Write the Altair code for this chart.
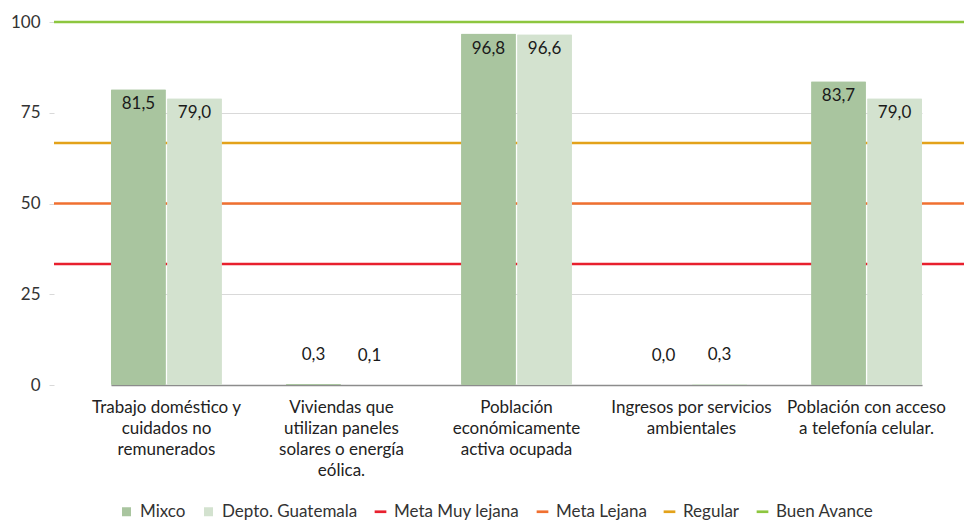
import altair as alt
import pandas as pd

categories = [
    "Trabajo doméstico y\ncuidados no\nremunerados",
    "Viviendas que\nutilizan paneles\nsolares o energía\neólica.",
    "Población\neconómicamente\nactiva ocupada",
    "Ingresos por servicios\nambientales",
    "Población con acceso\na telefonía celular.",
]
bar_series = ["Mixco", "Depto. Guatemala"]
mixco = [81.5, 0.3, 96.8, 0.0, 83.7]
depto = [79.0, 0.1, 96.6, 0.3, 79.0]

line_series = ["Meta Muy lejana", "Meta Lejana", "Regular", "Buen Avance"]
line_values = [33.3, 50.0, 66.7, 100.0]

all_series = bar_series + line_series
colors = ["#a9c59f", "#d3e2cf", "#e8202e", "#f07030", "#e3a21a", "#8dc63f"]
LINE_SYM = "M-1.3,-0.3H1.3V0.3H-1.3Z"
shapes = ["square", "square", LINE_SYM, LINE_SYM, LINE_SYM, LINE_SYM]

rows = []
for i, c in enumerate(categories):
    rows.append({"cat": c, "serie": "Mixco", "v": mixco[i]})
    rows.append({"cat": c, "serie": "Depto. Guatemala", "v": depto[i]})
bars_df = pd.DataFrame(rows)
lines_df = pd.DataFrame({"serie": line_series, "v": line_values})
legend_df = pd.DataFrame({"serie": all_series})

FONT = "Lato"

color_scale = alt.Scale(domain=all_series, range=colors)
shape_scale = alt.Scale(domain=all_series, range=shapes)
legend = alt.Legend(
    orient="none",
    legendX=64,
    legendY=481,
    direction="horizontal",
    title=None,
    labelFontSize=17,
    labelFont=FONT,
    labelColor="#333333",
    columnPadding=14,
    symbolSize=81,
    symbolStrokeWidth=0,
    symbolOpacity=1,
    labelOffset=5,
)

x_scale = alt.Scale(domain=categories, range=[57, 868], paddingInner=0.366, paddingOuter=0)
y_scale = alt.Scale(domain=[0, 100], nice=False)

x_axis = alt.Axis(
    title=None, labelAngle=0, labelExpr="split(datum.label, '\\n')",
    labelFontSize=17, labelFont=FONT, labelColor="#222222", labelLineHeight=21,
    labelPadding=14, ticks=False, domainColor="#8c8c8c", domainWidth=1.5,
    labelLimit=300,
)
y_axis = alt.Axis(
    title=None, values=[0, 25, 50, 75, 100], labelFontSize=17, labelFont=FONT,
    labelColor="#333333", domain=False, tickColor="#d9d9d9", tickSize=5,
    gridColor="#d9d9d9", labelPadding=9,
)

legend_pts = alt.Chart(legend_df).mark_point(filled=True, size=0).encode(
    color=alt.Color("serie:N", scale=color_scale, legend=legend, sort=all_series),
    shape=alt.Shape("serie:N", scale=shape_scale, legend=legend, sort=all_series),
)

rules = alt.Chart(lines_df).mark_rule(strokeWidth=2.5).encode(
    y=alt.Y("v:Q", scale=y_scale, axis=y_axis),
    color=alt.Color("serie:N", scale=color_scale, sort=all_series),
)

base = alt.Chart(bars_df)
bars = base.mark_bar(cornerRadius=1).encode(
    x=alt.X("cat:N", scale=x_scale, axis=x_axis, sort=categories),
    xOffset=alt.XOffset("serie:N", scale=alt.Scale(domain=bar_series, paddingInner=0.02)),
    y=alt.Y("v:Q", scale=y_scale),
    color=alt.Color("serie:N", scale=color_scale, sort=all_series),
)

lab_base = base.transform_calculate(
    lab="replace(format(datum.v, '.1f'), '.', ',')"
).encode(
    x=alt.X("cat:N", scale=x_scale, sort=categories),
    xOffset=alt.XOffset("serie:N", scale=alt.Scale(domain=bar_series, paddingInner=0.02)),
    y=alt.Y("v:Q", scale=y_scale),
    text="lab:N",
)
labels_in = lab_base.transform_filter("datum.v >= 5").mark_text(
    dy=15, fontSize=17, font=FONT, color="#1a1a1a", baseline="middle"
)
labels_out = lab_base.transform_filter("datum.v < 5").mark_text(
    dy=-29, fontSize=17, font=FONT, color="#1a1a1a", baseline="middle"
)

chart = alt.layer(legend_pts, rules, bars, labels_in, labels_out).properties(
    width=910,
    height=363,
    autosize=alt.AutoSizeParams(type="none"),
    padding={"left": 46, "top": 14, "right": 0, "bottom": 136},
).configure_view(stroke=None).resolve_scale(color="shared")

chart.save("out.html", embed_options={"renderer": "svg", "actions": False})
